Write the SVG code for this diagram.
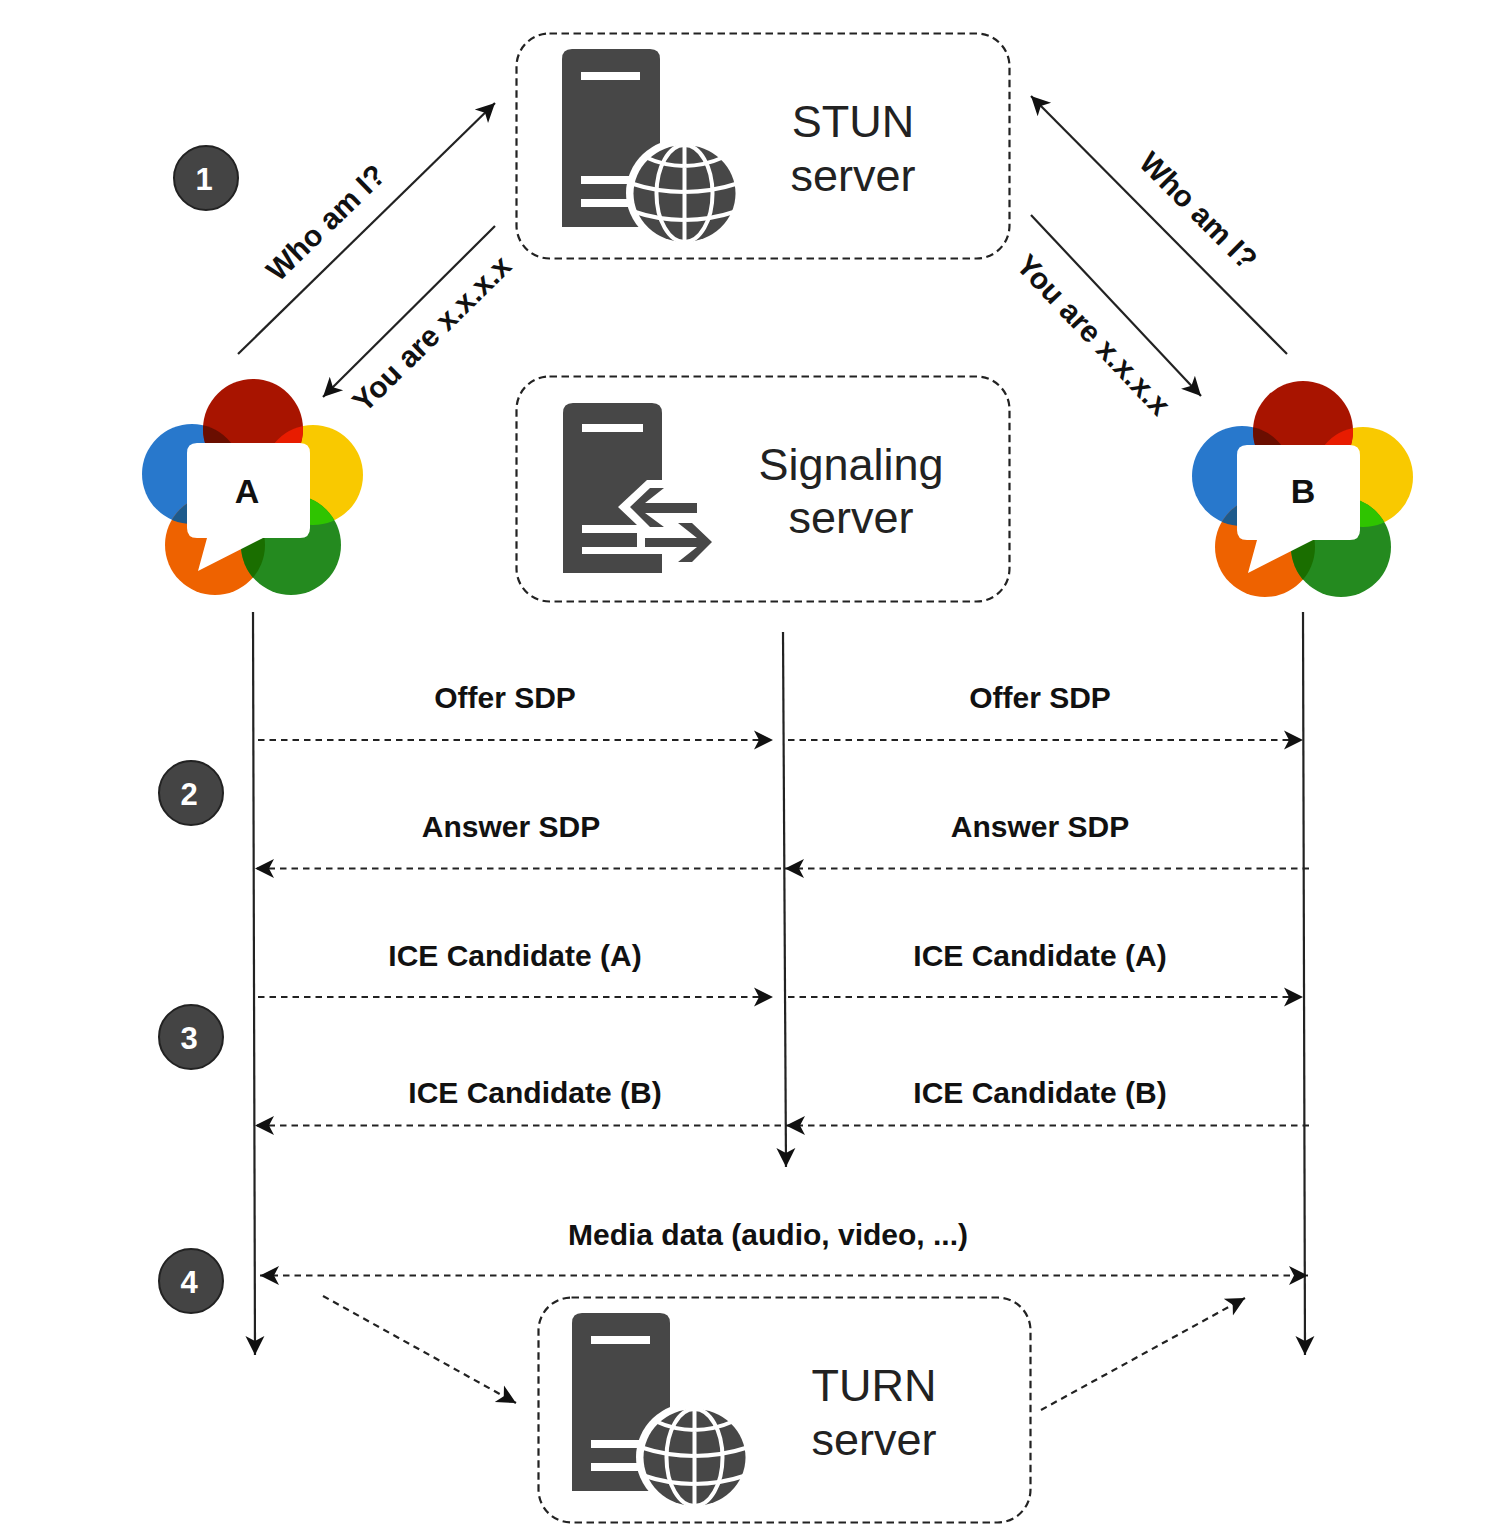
<svg xmlns="http://www.w3.org/2000/svg" xmlns:xlink="http://www.w3.org/1999/xlink" width="1508" height="1532" viewBox="0 0 1508 1532">
<style>
text{font-family:"Liberation Sans",Arial,sans-serif;fill:#111}
.lbl{font-size:30px;font-weight:bold;text-anchor:middle}
.big{font-size:45px;text-anchor:middle;fill:#222}
.who{font-size:30px;font-weight:bold;text-anchor:middle}
.box{fill:none;stroke:#222;stroke-width:2.200;stroke-dasharray:7.500 4.500}
.ln{fill:none;stroke:#222;stroke-width:2.200}
.dash{fill:none;stroke:#222;stroke-width:2.200;stroke-dasharray:6.500 5}
.step{fill:#444;stroke:#222;stroke-width:2}
.num{font-size:31px;font-weight:bold;text-anchor:middle;fill:#fff}
.srv{fill:#474747}
.hole{fill:#fff}
</style>
<defs>
<marker id="a" viewBox="0 0 22 22" refX="19" refY="11" markerUnits="userSpaceOnUse" markerWidth="22" markerHeight="22" orient="auto-start-reverse"><path d="M0,1.500L19,11L0,20.500L5,11Z" fill="#111"/></marker>
<clipPath id="cRed"><circle cx="253" cy="429" r="50"/></clipPath>
<clipPath id="cYel"><circle cx="313" cy="475" r="50"/></clipPath>
<clipPath id="cOra"><circle cx="215" cy="545" r="50"/></clipPath>
<g id="logo">
<circle cx="192" cy="474" r="50" fill="#2878cc"/>
<circle cx="313" cy="475" r="50" fill="#f9c900"/>
<circle cx="215" cy="545" r="50" fill="#ee6200"/>
<circle cx="291" cy="545" r="50" fill="#248a1f"/>
<circle cx="253" cy="429" r="50" fill="#a81400"/>
<circle cx="192" cy="474" r="50" fill="#6a0e00" clip-path="url(#cRed)"/>
<circle cx="313" cy="475" r="50" fill="#e81c00" clip-path="url(#cRed)"/>
<circle cx="192" cy="474" r="50" fill="#1d5a8c" clip-path="url(#cOra)"/>
<circle cx="291" cy="545" r="50" fill="#2fc400" clip-path="url(#cYel)"/>
<circle cx="291" cy="545" r="50" fill="#1a6e00" clip-path="url(#cOra)"/>
<path fill="#fff" d="M197,443H300Q310,443 310,453V528Q310,538 300,538H263L198,571L207,538H197Q187,538 187,528V453Q187,443 197,443Z"/>
</g>
<g id="serverGlobe">
<path class="srv" d="M562,227V59Q562,49 572,49H650Q660,49 660,59V227Z"/>
<rect class="hole" x="581" y="72" width="59" height="8"/>
<rect class="hole" x="581" y="176" width="50" height="8"/>
<rect class="hole" x="581" y="199" width="50" height="8"/>
<ellipse class="hole" cx="684" cy="193" rx="58" ry="55"/>
<ellipse class="srv" cx="684.500" cy="193.500" rx="51" ry="48.500"/>
<g fill="none" stroke="#fff" stroke-width="4">
<ellipse cx="684.500" cy="193.500" rx="28" ry="48.500"/>
<path d="M684.500,143V244M645,157Q684,175 724,157M630,183Q684,201 739,183M632,211Q684,229 737,211"/>
</g>
</g>
</defs>

<g id="connectors">
<path class="ln" marker-end="url(#a)" d="M238,354L495,103"/>
<path class="ln" marker-end="url(#a)" d="M495,226L323,397"/>
<path class="ln" marker-end="url(#a)" d="M1287,354L1031,96"/>
<path class="ln" marker-end="url(#a)" d="M1031,215L1201,396"/>
<path class="ln" marker-end="url(#a)" d="M253,612L255,1355"/>
<path class="ln" marker-end="url(#a)" d="M783,632L786,1167"/>
<path class="ln" marker-end="url(#a)" d="M1303,612L1305,1355"/>
<path class="dash" marker-end="url(#a)" d="M258,740H773"/>
<path class="dash" marker-end="url(#a)" d="M788,740H1303"/>
<path class="dash" marker-end="url(#a)" d="M781,868.500H255"/>
<path class="dash" marker-end="url(#a)" d="M1309,868.500H785"/>
<path class="dash" marker-end="url(#a)" d="M258,997H773"/>
<path class="dash" marker-end="url(#a)" d="M788,997H1303"/>
<path class="dash" marker-end="url(#a)" d="M781,1125.500H255"/>
<path class="dash" marker-end="url(#a)" d="M1309,1125.500H786"/>
<path class="dash" marker-start="url(#a)" marker-end="url(#a)" d="M260,1275.500H1308"/>
<path class="dash" marker-end="url(#a)" d="M323,1296L516,1403"/>
<path class="dash" marker-end="url(#a)" d="M1041,1410L1245,1298"/>
</g>

<g id="stun">
<rect class="box" x="516.500" y="33.500" width="493" height="225" rx="33"/>
<use xlink:href="#serverGlobe" href="#serverGlobe"/>
<text class="big" x="853" y="137">STUN</text>
<text class="big" x="853" y="191">server</text>
</g>
<g id="signaling">
<rect class="box" x="516.500" y="376.500" width="493" height="225" rx="33"/>
<path class="srv" d="M563,573V413Q563,403 573,403H652Q662,403 662,413V480H647L618,507L637,525V547H662V573Z"/>
<rect class="hole" x="582" y="424" width="61" height="8"/>
<rect class="hole" x="582" y="525" width="55" height="8"/>
<rect class="hole" x="582" y="547" width="80" height="7"/>
<path class="srv" d="M630,507L650,488H664L645,503H697V513H645L664,527H650Z"/>
<path class="srv" d="M645,538H697L678,523H692L712,542L692,562H678L697,547H645Z"/>
<text class="big" x="851" y="480">Signaling</text>
<text class="big" x="851" y="533">server</text>
</g>
<g id="turn">
<rect class="box" x="538.500" y="1297.500" width="492" height="225" rx="33"/>
<use xlink:href="#serverGlobe" href="#serverGlobe" transform="translate(10,1264)"/>
<text class="big" x="874" y="1401">TURN</text>
<text class="big" x="874" y="1455">server</text>
</g>
<g id="peerA">
<use xlink:href="#logo" href="#logo"/>
<text x="247" y="503" font-size="34" font-weight="bold" text-anchor="middle">A</text>
</g>
<g id="peerB">
<use xlink:href="#logo" href="#logo" transform="translate(1050,2)"/>
<text x="1303" y="503" font-size="34" font-weight="bold" text-anchor="middle">B</text>
</g>

<g id="step1"><circle class="step" cx="206" cy="178" r="32"/><text class="num" x="204" y="190">1</text></g>
<g id="step2"><circle class="step" cx="191" cy="793" r="32"/><text class="num" x="189" y="805">2</text></g>
<g id="step3"><circle class="step" cx="191" cy="1037" r="32"/><text class="num" x="189" y="1049">3</text></g>
<g id="step4"><circle class="step" cx="191" cy="1281" r="32"/><text class="num" x="189" y="1293">4</text></g>

<g id="labels">
<text class="who" transform="translate(333,230) rotate(-44)">Who am I?</text>
<text class="who" transform="translate(439,341) rotate(-44.500)">You are x.x.x.x</text>
<text class="who" transform="translate(1191,218) rotate(45)">Who am I?</text>
<text class="who" transform="translate(1086,342) rotate(46.500)">You are x.x.x.x</text>
<text class="lbl" x="505" y="708">Offer SDP</text>
<text class="lbl" x="1040" y="708">Offer SDP</text>
<text class="lbl" x="511" y="837">Answer SDP</text>
<text class="lbl" x="1040" y="837">Answer SDP</text>
<text class="lbl" x="515" y="966">ICE Candidate (A)</text>
<text class="lbl" x="1040" y="966">ICE Candidate (A)</text>
<text class="lbl" x="535" y="1103">ICE Candidate (B)</text>
<text class="lbl" x="1040" y="1103">ICE Candidate (B)</text>
<text class="lbl" x="768" y="1245">Media data (audio, video, ...)</text>
</g>
</svg>
